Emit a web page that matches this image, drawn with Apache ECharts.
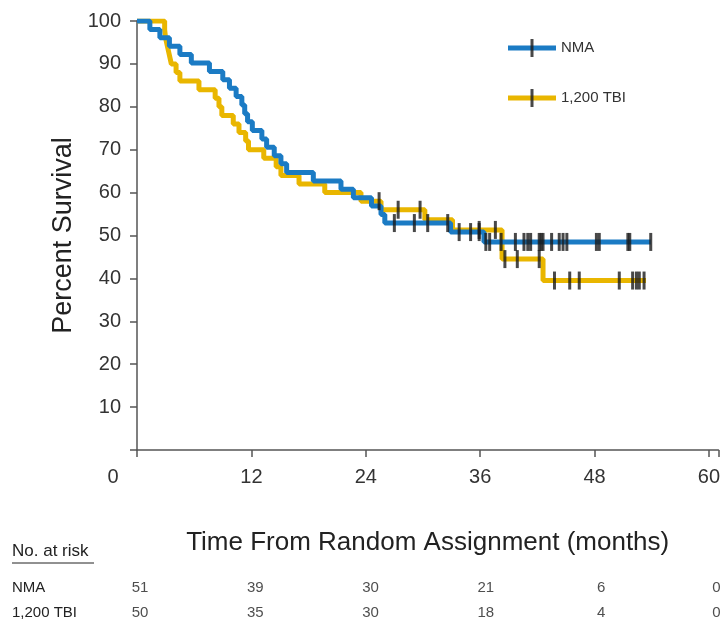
<!DOCTYPE html>
<html>
<head>
<meta charset="utf-8">
<script src="https://cdn.jsdelivr.net/npm/echarts@6/dist/echarts.min.js"></script>
<style>
  html, body { margin: 0; padding: 0; background: #fff; }
  #chart { width: 723px; height: 625px; }
</style>
</head>
<body>
<div id="chart"></div>
<script>
const FONT = '"Liberation Sans Narrow", "Liberation Sans", Arial, sans-serif';
const BLUE = '#1b7bc4';
const GOLD = '#e9b600';

// NMA arm: time of each step (months) and survival (%) after it
const nmaTime = [0, 1.35, 2.4, 3.4, 4.5, 5.7, 7.6, 9.0, 9.7, 10.4, 11.0, 11.3, 11.6, 12.1, 13.1, 13.6, 14.4, 15.1, 15.7, 18.5, 21.4, 22.7, 24.6, 25.6, 26.0, 32.9, 36.4, 53.9];
const nmaSurv = [100, 98.0, 96.1, 94.1, 92.2, 90.2, 88.2, 86.3, 84.3, 82.4, 80.4, 78.4, 76.5, 74.5, 72.5, 70.6, 68.6, 66.7, 64.7, 62.7, 60.8, 58.8, 56.9, 54.9, 52.9, 50.8, 48.5, 48.5];
// NMA censored patients
const nmaCensorTime = [27.0, 29.1, 30.5, 32.6, 33.8, 35.0, 35.9, 36.6, 37.0, 38.2, 39.7, 40.6, 41.0, 41.3, 42.2, 42.4, 42.6, 43.5, 44.3, 44.7, 45.1, 48.2, 48.5, 51.5, 51.7, 53.9];
const nmaCensorSurv = [52.9, 52.9, 52.9, 52.9, 50.8, 50.8, 50.8, 48.5, 48.5, 48.5, 48.5, 48.5, 48.5, 48.5, 48.5, 48.5, 48.5, 48.5, 48.5, 48.5, 48.5, 48.5, 48.5, 48.5, 48.5, 48.5];

// 1,200 TBI arm
const tbiTime = [0, 2.9, 3.0, 3.2, 3.4, 3.6, 4.1, 4.5, 6.5, 8.2, 8.6, 8.9, 10.1, 10.7, 11.4, 11.7, 13.3, 14.6, 15.1, 17.0, 19.7, 23.5, 25.6, 30.2, 33.1, 38.3, 42.6, 53.4];
const tbiSurv = [100, 98, 96, 94, 92, 90, 88, 86, 84, 82, 80, 78, 76, 74, 72, 70, 68, 66, 64, 62, 60, 58, 56, 53.7, 51.3, 44.5, 39.5, 39.5];
const tbiCensorTime = [25.4, 27.4, 29.7, 35.9, 37.6, 38.6, 39.9, 42.2, 43.8, 45.4, 46.4, 50.6, 52.0, 52.4, 52.7, 53.2];
const tbiCensorSurv = [58, 56, 56, 51.3, 51.3, 44.5, 44.5, 44.5, 39.5, 39.5, 39.5, 39.5, 39.5, 39.5, 39.5, 39.5];

// number at risk table
const riskTimes = [0, 12, 24, 36, 48, 60];
const riskGroups = ['NMA', '1,200 TBI'];
const nmaAtRisk = [51, 39, 30, 21, 6, 0];
const tbiAtRisk = [50, 35, 30, 18, 4, 0];

const zip = (xs, ys) => xs.map((x, i) => [x, ys[i]]);

const riskData = [];
riskTimes.forEach((t, i) => {
  riskData.push([t, riskGroups[0], nmaAtRisk[i]]);
  riskData.push([t, riskGroups[1], tbiAtRisk[i]]);
});

const chart = echarts.init(document.getElementById('chart'));

const legendBase = {
  orient: 'vertical',
  left: 503,
  top: 34,
  itemWidth: 48,
  itemHeight: 18,
  itemGap: 32,
  selectedMode: false,
  textStyle: { fontFamily: FONT, fontSize: 15, color: '#333' }
};

chart.setOption({
  animation: false,
  grid: [
    { left: 137, right: 0, top: 21, bottom: 175 },
    { left: 137, right: 0, top: 575, height: 54 }
  ],
  xAxis: [
    {
      type: 'value',
      min: 0,
      max: 61,
      interval: 12,
      name: 'Time From Random Assignment (months)',
      nameLocation: 'middle',
      nameGap: 80,
      nameTextStyle: { fontFamily: FONT, fontSize: 26, color: '#222' },
      axisLine: { lineStyle: { color: '#555', width: 1.5 } },
      axisTick: { length: 7, lineStyle: { color: '#555', width: 1.5 } },
      splitLine: { show: false },
      axisLabel: {
        margin: 17,
        fontFamily: FONT,
        fontSize: 20,
        color: '#333',
        formatter: v => (v % 12 !== 0 ? '' : v === 0 ? '{z|0}' : String(v)),
        rich: { z: { fontFamily: FONT, fontSize: 20, color: '#333', padding: [0, 48, 0, 0] } }
      }
    },
    { type: 'value', gridIndex: 1, min: 0, max: 61, show: false }
  ],
  yAxis: [
    {
      type: 'value',
      min: 0,
      max: 100,
      interval: 10,
      name: 'Percent Survival',
      nameLocation: 'middle',
      nameGap: 56,
      nameTextStyle: { fontFamily: FONT, fontSize: 27, color: '#222' },
      axisLine: { show: true, lineStyle: { color: '#555', width: 1.5 } },
      axisTick: { show: true, length: 7, lineStyle: { color: '#555', width: 1.5 } },
      splitLine: { show: false },
      axisLabel: {
        margin: 16,
        fontFamily: FONT,
        fontSize: 20,
        color: '#333',
        formatter: v => (v === 0 ? '' : String(v))
      }
    },
    {
      type: 'category',
      gridIndex: 1,
      data: riskGroups,
      inverse: true,
      axisLine: { show: false },
      axisTick: { show: false },
      axisLabel: {
        align: 'left',
        margin: 125,
        fontFamily: FONT,
        fontSize: 15,
        color: '#222'
      }
    }
  ],
  legend: [
    Object.assign({}, legendBase, {
      data: ['NMA', '1,200 TBI'],
      icon: 'path://M0,0M48,18M0,6.5H48V11.5H0Z'
    }),
    Object.assign({}, legendBase, {
      data: ['NMA censored', '1,200 TBI censored'],
      icon: 'path://M0,0M48,18M22.5,0H25.5V18H22.5Z',
      formatter: name => name.replace(' censored', ''),
      textStyle: { fontFamily: FONT, fontSize: 15, color: 'rgba(0,0,0,0)' },
      z: 6
    })
  ],
  graphic: [
    {
      type: 'text',
      left: 12,
      top: 543,
      style: { text: 'No. at risk', font: '17px ' + FONT, fill: '#222' }
    },
    {
      type: 'line',
      shape: { x1: 12, y1: 563, x2: 94, y2: 563 },
      style: { stroke: '#222', lineWidth: 1 }
    }
  ],
  series: [
    {
      name: '1,200 TBI',
      type: 'line',
      step: 'end',
      data: zip(tbiTime, tbiSurv),
      symbol: 'none',
      color: GOLD,
      lineStyle: { color: GOLD, width: 5 },
      z: 2
    },
    {
      name: 'NMA',
      type: 'line',
      step: 'end',
      data: zip(nmaTime, nmaSurv),
      symbol: 'none',
      color: BLUE,
      lineStyle: { color: BLUE, width: 5 },
      z: 3
    },
    {
      name: '1,200 TBI censored',
      type: 'scatter',
      data: zip(tbiCensorTime, tbiCensorSurv),
      symbol: 'rect',
      symbolSize: [3, 18],
      itemStyle: { color: '#1a1a1a' },
      z: 4
    },
    {
      name: 'NMA censored',
      type: 'scatter',
      data: zip(nmaCensorTime, nmaCensorSurv),
      symbol: 'rect',
      symbolSize: [3, 18],
      itemStyle: { color: '#1a1a1a' },
      z: 4
    },
    {
      name: 'No. at risk',
      type: 'scatter',
      xAxisIndex: 1,
      yAxisIndex: 1,
      data: riskData,
      symbolSize: 0,
      label: {
        show: true,
        position: 'inside',
        offset: [3, 0],
        formatter: p => String(p.value[2]),
        fontFamily: FONT,
        fontSize: 15,
        color: '#222'
      }
    }
  ]
});
</script>
</body>
</html>
